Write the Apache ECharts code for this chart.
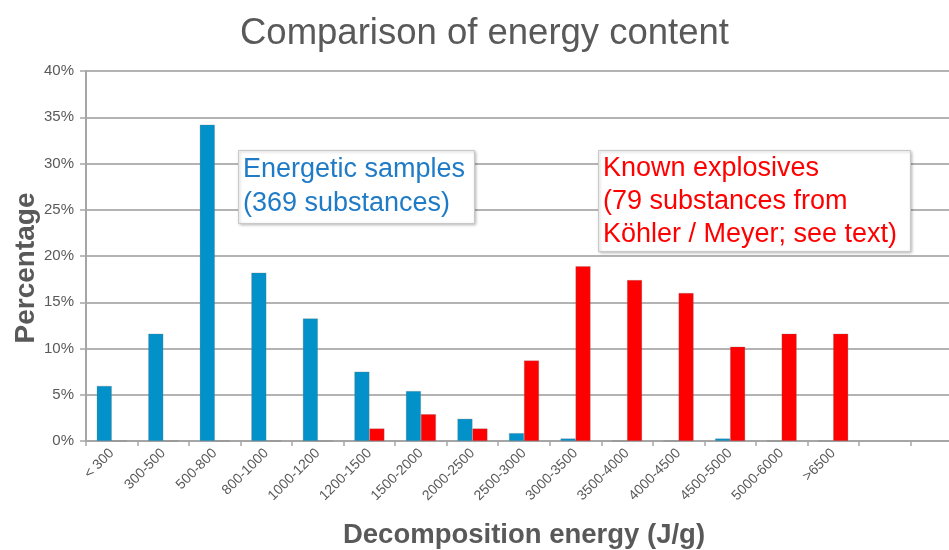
<!DOCTYPE html>
<html><head><meta charset="utf-8">
<script src="https://cdn.jsdelivr.net/npm/echarts@6/dist/echarts.min.js"></script>
<style>html,body{margin:0;padding:0;background:#fff}#c{width:949px;height:550px}</style>
</head><body><div id="c"></div>
<script>
const categories = ['< 300','300-500','500-800','800-1000','1000-1200','1200-1500','1500-2000','2000-2500','2500-3000','3000-3500','3500-4000','4000-4500','4500-5000','5000-6000','>6500','',''];
const energeticSamples = [5.95,11.6,34.2,18.2,13.25,7.5,5.4,2.4,0.85,0.27,0,0,0.27,0,0,null,null];
const knownExplosives = [0,0,0,0,0,1.35,2.9,1.35,8.7,18.9,17.4,16.0,10.2,11.6,11.6,null,null];
const yTicks = [0,5,10,15,20,25,30,35,40];

const grey = '#595959';
const font = 'Liberation Sans';
const chart = echarts.init(document.getElementById('c'), null, {renderer:'canvas'});
chart.setOption({
  backgroundColor:'#fff',
  animation:false,
  title:[
    {text:'Comparison of energy content', left:235, top:10,
     textStyle:{fontFamily:font, fontSize:36.5, fontWeight:'normal', color:grey}},
    {text:'Energetic samples\n(369 substances)', left:238, top:150, padding:[3,10,3,5],
     backgroundColor:'#fff', borderColor:'#c8c8c8', borderWidth:1,
     shadowColor:'rgba(0,0,0,0.25)', shadowBlur:3, shadowOffsetX:1, shadowOffsetY:1,
     textStyle:{fontFamily:font, fontSize:27, fontWeight:'normal', color:'#1f7bc6', lineHeight:34}},
    {text:'Known explosives\n(79 substances from\nKöhler / Meyer; see text)', left:598, top:150, padding:[2,14,1,5],
     backgroundColor:'#fff', borderColor:'#c8c8c8', borderWidth:1,
     shadowColor:'rgba(0,0,0,0.25)', shadowBlur:3, shadowOffsetX:1, shadowOffsetY:1,
     textStyle:{fontFamily:font, fontSize:27, fontWeight:'normal', color:'#ff0000', lineHeight:33}}
  ],
  graphic:[
    {type:'text', x:26, y:268, rotation:Math.PI/2,
     style:{text:'Percentage', fill:grey, font:'bold 28px "Liberation Sans"', textAlign:'center', textVerticalAlign:'middle'}}
  ],
  grid:{left:86, right:-13, top:71, bottom:109, containLabel:false, outerBoundsMode:'none'},
  xAxis:{
    type:'category', data:categories,
    axisLine:{lineStyle:{color:'#a6a6a6', width:2}},
    axisTick:{show:true, alignWithLabel:false, length:5, lineStyle:{color:'#a6a6a6', width:1.5}},
    axisLabel:{rotate:45, interval:0, fontFamily:font, fontSize:14, color:grey, margin:10},
    name:'Decomposition energy (J/g)', nameLocation:'middle', nameGap:80,
    nameTextStyle:{fontFamily:font, fontSize:27.5, fontWeight:'bold', color:grey}
  },
  yAxis:{
    type:'value', min:0, max:40, interval:5,
    axisLine:{show:true, lineStyle:{color:'#a6a6a6', width:2}},
    axisTick:{show:true, length:6, lineStyle:{color:'#a6a6a6', width:1.5}},
    splitLine:{lineStyle:{color:'#b3b3b3', width:2}},
    axisLabel:{formatter:v=>yTicks.includes(v)?v+'%':'', fontFamily:font, fontSize:15, color:grey, margin:12}
  },
  series:[
    {name:'Energetic samples', type:'bar', data:energeticSamples, barWidth:15, barGap:'0%',
     itemStyle:{color:'#0391c9', borderColor:'rgba(120,120,120,0.5)', borderWidth:0.5}},
    {name:'Known explosives', type:'bar', data:knownExplosives, barWidth:15,
     itemStyle:{color:'#ff0000', borderColor:'rgba(120,120,120,0.5)', borderWidth:0.5}}
  ]
});
</script></body></html>
